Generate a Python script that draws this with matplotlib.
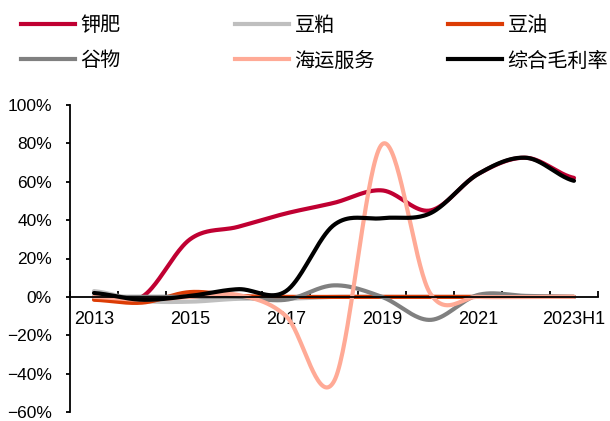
import numpy as np
import matplotlib
matplotlib.use('Agg')
import matplotlib.pyplot as plt
from matplotlib.lines import Line2D
from matplotlib.ticker import FixedLocator

# 各业务毛利率 (%)
years = ['2013', '2014', '2015', '2016', '2017', '2018', '2019', '2020', '2021', '2022', '2023H1']
potash = [None, 0, 30, 36.5, 43.5, 49, 55.5, 45, 64, 72.5, 62]
soymeal = [3, -2, -2.5, -1, -1, 0, 0, 0, 0, 0, 0]
soyoil = [-1.5, -3, 2.5, 0.5, 0, 0, 0, 0, 0, 0, 0]
grain = [0, 0, 0, 0, -1.5, 6, 0, -12, 1, 0.5, 0]
shipping = [0, -1.5, 0, 1, -10, -44, 79.5, 2, 0, 0, 0]
overall = [2, -1.5, 0.5, 4, 3, 37.5, 41, 43.5, 64, 72.5, 60.5]

series_names = ['钾肥', '豆粕', '豆油', '谷物', '海运服务', '综合毛利率']
series_values = [potash, soymeal, soyoil, grain, shipping, overall]
colors = ['#C00032', '#BFBFBF', '#DC3C05', '#808080', '#FFAA96', '#000000']

y_ticks = [-60, -40, -20, 0, 20, 40, 60, 80, 100]
x_label_every = 2


def smooth(xs, ys, n=40):
    # 平滑曲线: 每段三次贝塞尔, 控制点取相邻点斜率的 1/6
    out_x, out_y = [], []
    m = len(ys)
    for i in range(m - 1):
        p0 = ys[i - 1] if i > 0 else ys[i]
        p1, p2 = ys[i], ys[i + 1]
        p3 = ys[i + 2] if i + 2 < m else ys[i + 1]
        c1 = p1 + (p2 - p0) / 6
        c2 = p2 - (p3 - p1) / 6
        t = np.linspace(0, 1, n)
        y = (1 - t) ** 3 * p1 + 3 * (1 - t) ** 2 * t * c1 + 3 * (1 - t) * t ** 2 * c2 + t ** 3 * p2
        x = xs[i] + (xs[i + 1] - xs[i]) * t
        out_x.extend(x)
        out_y.extend(y)
    return np.array(out_x), np.array(out_y)


fig = plt.figure(figsize=(6.10, 4.21), dpi=100)
ax = fig.add_axes([70 / 610, 9 / 421, 528 / 610, 307 / 421])

xpos = np.arange(len(years))
for name, vals, c in zip(series_names, series_values, colors):
    pts = [(x, v) for x, v in zip(xpos, vals) if v is not None]
    px = [p[0] for p in pts]
    py = [p[1] for p in pts]
    sx, sy = smooth(px, py)
    ax.plot(sx, sy, color=c, lw=3, solid_capstyle='round', label=name)

ax.set_xlim(-0.5, len(years) - 0.5)
ax.set_ylim(-60, 100)

for s in ['top', 'right']:
    ax.spines[s].set_visible(False)
ax.spines['bottom'].set_position(('data', 0))
ax.spines['left'].set_linewidth(1.3)
ax.spines['bottom'].set_linewidth(1.3)

ax.set_yticks(y_ticks)
ax.set_yticklabels([f'{v}%'.replace('-', '\u2212') for v in y_ticks],
                   fontsize=12.5, family='Liberation Sans')
ax.tick_params(axis='y', direction='out', length=3, width=1.3, pad=10)

ax.set_xticks(xpos[::x_label_every])
ax.set_xticklabels(years[::x_label_every], fontsize=13, family='Liberation Sans')
ax.xaxis.set_minor_locator(FixedLocator(np.arange(len(years) + 1) - 0.5))
ax.tick_params(axis='x', which='major', length=0, pad=10)
ax.tick_params(axis='x', which='minor', direction='in', length=4, width=1.3)

# 图例: 三列两行
col_x = [21, 235, 448]
handles = [Line2D([], [], color=c, lw=3) for c in colors]
for k in range(3):
    idx = [k, k + 3]
    leg = fig.legend([handles[i] for i in idx], [series_names[i] for i in idx],
                     loc='upper left', bbox_to_anchor=(col_x[k] / 610, 1 - 15 / 421),
                     frameon=False, borderpad=0, borderaxespad=0,
                     handlelength=2.7, handletextpad=0.25, labelspacing=0.72,
                     prop={'family': ['Noto Sans CJK SC', 'DejaVu Sans'], 'size': 14.5})

fig.savefig('out.png', dpi=100)
